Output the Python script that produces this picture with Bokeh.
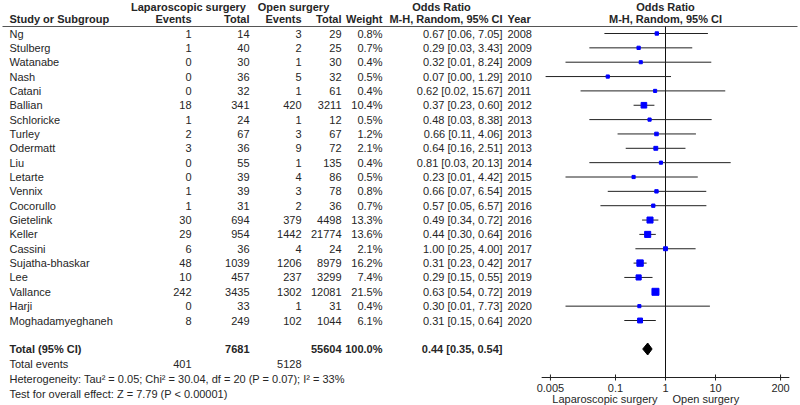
from bokeh.plotting import figure
from bokeh.models import Range1d, LogScale
from bokeh.core.properties import value
from bokeh.embed import file_html
from bokeh.resources import INLINE
import numpy as np

# ---------------- data ----------------
studies = ["Ng", "Stulberg", "Watanabe", "Nash", "Catani", "Ballian", "Schloricke",
           "Turley", "Odermatt", "Liu", "Letarte", "Vennix", "Cocorullo", "Gietelink",
           "Keller", "Cassini", "Sujatha-bhaskar", "Lee", "Vallance", "Harji",
           "Moghadamyeghaneh"]
lap_events = [1, 1, 0, 0, 0, 18, 1, 2, 3, 0, 0, 1, 1, 30, 29, 6, 48, 10, 242, 0, 8]
lap_total = [14, 40, 30, 36, 32, 341, 24, 67, 36, 55, 39, 39, 31, 694, 954, 36, 1039,
             457, 3435, 33, 249]
open_events = [3, 2, 1, 5, 1, 420, 1, 3, 9, 1, 4, 3, 2, 379, 1442, 4, 1206, 237, 1302,
               1, 102]
open_total = [29, 25, 30, 32, 61, 3211, 12, 67, 72, 135, 86, 78, 36, 4498, 21774, 24,
              8979, 3299, 12081, 31, 1044]
weight = [0.8, 0.7, 0.4, 0.5, 0.4, 10.4, 0.5, 1.2, 2.1, 0.4, 0.5, 0.8, 0.7, 13.3, 13.6,
          2.1, 16.2, 7.4, 21.5, 0.4, 6.1]
or_est = [0.67, 0.29, 0.32, 0.07, 0.62, 0.37, 0.48, 0.66, 0.64, 0.81, 0.23, 0.66, 0.57,
          0.49, 0.44, 1.00, 0.31, 0.29, 0.63, 0.30, 0.31]
ci_lo = [0.06, 0.03, 0.01, 0.004, 0.02, 0.23, 0.03, 0.11, 0.16, 0.03, 0.01, 0.07, 0.05,
         0.34, 0.30, 0.25, 0.23, 0.15, 0.54, 0.01, 0.15]
ci_hi = [7.05, 3.43, 8.24, 1.29, 15.67, 0.60, 8.38, 4.06, 2.51, 20.13, 4.42, 6.54, 6.57,
         0.72, 0.64, 4.00, 0.42, 0.55, 0.72, 7.73, 0.64]
years = [2008, 2009, 2009, 2010, 2011, 2012, 2013, 2013, 2013, 2014, 2015, 2015, 2016,
         2016, 2016, 2017, 2017, 2019, 2019, 2020, 2020]

total_lap_n = 7681
total_open_n = 55604
total_lap_events = 401
total_open_events = 5128
pooled_or = 0.44
pooled_lo = 0.35
pooled_hi = 0.54
het_text = "Heterogeneity: Tau\u00b2 = 0.05; Chi\u00b2 = 30.04, df = 20 (P = 0.07); I\u00b2 = 33%"
test_text = "Test for overall effect: Z = 7.79 (P < 0.00001)"
axis_ticks = [0.005, 0.1, 1, 10, 200]
favours = ["Laparoscopic surgery", "Open surgery"]

# ---------------- layout / style ----------------
FONT = "Liberation Sans"
TXT = "#262626"
FS = "11px"
W, H = 800, 405
OR1_X, PX_PER_DECADE = 665, 50          # where OR = 1 sits, and log scale density
ROW0, ROW_H = 33, 14.35
Y_H1, Y_H2, Y_LINE = 6, 18, 26
Y_TOTAL, Y_EVENTS, Y_HET, Y_TEST = 348.5, 363.5, 378.5, 393.5
Y_AXIS, Y_TICKLAB, Y_FAV = 377, 387, 398

n = len(studies)
y_rows = [ROW0 + ROW_H * i for i in range(n)]

p = figure(width=W, height=H, x_range=Range1d(0, W), y_range=Range1d(H, 0),
           output_backend="svg", toolbar_location=None, min_border=0,
           x_axis_location=None, y_axis_location=None)
p.grid.visible = False
p.outline_line_color = None
p.extra_x_ranges = {"or": Range1d(10 ** (-OR1_X / PX_PER_DECADE),
                                  10 ** ((W - OR1_X) / PX_PER_DECADE))}
p.extra_x_scales = {"or": LogScale()}


def col(x, ys, texts, align="right", bold=False, rng="default", x_off=0):
    p.text(x=[x] * len(ys), y=list(ys), text=[str(t) for t in texts],
           text_font=value(FONT), text_font_size=value(FS), text_color=TXT,
           text_align=align, text_baseline="middle", x_offset=x_off,
           text_font_style="bold" if bold else "normal", x_range_name=rng)


X_NAME, X_LE, X_LT, X_OE, X_OT, X_W, X_OR, X_YR = 9, 191, 249, 301, 341, 382, 502, 507

# headers
col(188, [Y_H1], ["Laparoscopic surgery"], align="center", bold=True)
col(293, [Y_H1], ["Open surgery"], align="center", bold=True)
col(441, [Y_H1], ["Odds Ratio"], align="center", bold=True)
col(X_NAME, [Y_H2], ["Study or Subgroup"], align="left", bold=True)
col(X_LE, [Y_H2], ["Events"], bold=True)
col(X_LT, [Y_H2], ["Total"], bold=True)
col(X_OE, [Y_H2], ["Events"], bold=True)
col(X_OT, [Y_H2], ["Total"], bold=True)
col(X_W, [Y_H2], ["Weight"], bold=True)
col(X_OR, [Y_H2], ["M-H, Random, 95% CI"], bold=True)
col(X_YR, [Y_H2], ["Year"], align="left", bold=True)
p.segment(x0=[2], y0=[Y_LINE], x1=[797], y1=[Y_LINE], line_color="#555555", line_width=1)

# study rows
col(X_NAME, y_rows, studies, align="left")
col(X_LE, y_rows, lap_events)
col(X_LT, y_rows, lap_total)
col(X_OE, y_rows, open_events)
col(X_OT, y_rows, open_total)
col(X_W, y_rows, [f"{w:.1f}%" for w in weight])
col(X_OR, y_rows, [f"{o:.2f} [{l:.2f}, {h:.2f}]" for o, l, h in zip(or_est, ci_lo, ci_hi)])
col(X_YR, y_rows, years, align="left")

# totals
col(X_NAME, [Y_TOTAL], ["Total (95% CI)"], align="left", bold=True)
col(X_LT, [Y_TOTAL], [total_lap_n], bold=True)
col(X_OT, [Y_TOTAL], [total_open_n], bold=True)
col(X_W, [Y_TOTAL], ["100.0%"], bold=True)
col(X_OR, [Y_TOTAL], [f"{pooled_or:.2f} [{pooled_lo:.2f}, {pooled_hi:.2f}]"], bold=True)
col(X_NAME, [Y_EVENTS], ["Total events"], align="left")
col(X_LE, [Y_EVENTS], [total_lap_events])
col(X_OE, [Y_EVENTS], [total_open_events])
col(X_NAME, [Y_HET], [het_text], align="left")
col(X_NAME, [Y_TEST], [test_text], align="left")

# ---------------- forest (log odds-ratio scale) ----------------
col(1, [Y_H1], ["Odds Ratio"], align="center", bold=True, rng="or")
col(1, [Y_H2], ["M-H, Random, 95% CI"], align="center", bold=True, rng="or")

# axis drawn on the log scale
ax_lo, ax_hi = min(axis_ticks) / 1.5, max(axis_ticks) * 1.5
p.segment(x0=[ax_lo], y0=[Y_AXIS], x1=[ax_hi], y1=[Y_AXIS], line_color="#222222",
          line_width=1, x_range_name="or")
p.segment(x0=axis_ticks, y0=[Y_AXIS - 3] * len(axis_ticks), x1=axis_ticks,
          y1=[Y_AXIS + 3] * len(axis_ticks), line_color="#222222", line_width=1,
          x_range_name="or")
p.text(x=axis_ticks, y=[Y_TICKLAB] * len(axis_ticks), text=[f"{t:g}" for t in axis_ticks],
       text_font=value(FONT), text_font_size=value(FS), text_color=TXT,
       text_align="center", text_baseline="middle", x_range_name="or")
col(1, [Y_FAV], [favours[0]], align="right", rng="or", x_off=-8)
col(1, [Y_FAV], [favours[1]], align="left", rng="or", x_off=7)

# line of no effect
p.segment(x0=[1], y0=[Y_LINE], x1=[1], y1=[Y_AXIS], line_color="#111111", line_width=1,
          x_range_name="or")

# study CIs and point estimates
p.segment(x0=ci_lo, y0=y_rows, x1=ci_hi, y1=y_rows, line_color="#222222", line_width=1,
          x_range_name="or")
sizes = [2.5 + 4.5 * np.sqrt(w / max(weight)) for w in weight]
p.scatter(x=or_est, y=y_rows, marker="square", size=sizes, color="#0000ff",
          x_range_name="or")

# pooled diamond
p.patch(x=[pooled_lo, pooled_or, pooled_hi, pooled_or],
        y=[Y_TOTAL, Y_TOTAL - 6, Y_TOTAL, Y_TOTAL + 6], color="black", x_range_name="or")

open("out.html", "w").write(file_html(p, INLINE))
